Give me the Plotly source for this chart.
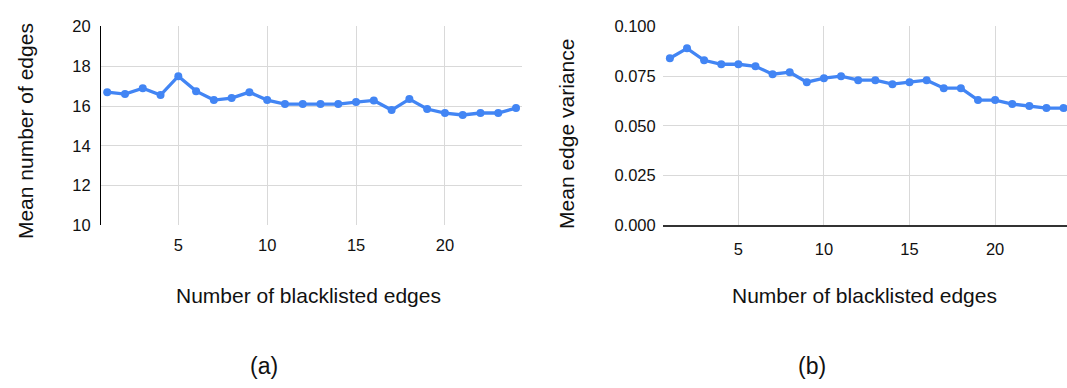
import plotly.graph_objects as go
from plotly.subplots import make_subplots

# Number of blacklisted edges (x) shared by both panels
blacklisted = list(range(1, 25))

# Panel (a): mean number of edges
mean_edges = [16.7, 16.6, 16.9, 16.55, 17.5, 16.75, 16.3, 16.4, 16.7, 16.3,
              16.1, 16.1, 16.1, 16.1, 16.2, 16.28, 15.8, 16.35, 15.85, 15.65,
              15.55, 15.65, 15.65, 15.9]

# Panel (b): mean edge variance
mean_variance = [0.084, 0.089, 0.083, 0.081, 0.081, 0.080, 0.076, 0.077, 0.072, 0.074,
                 0.075, 0.073, 0.073, 0.071, 0.072, 0.073, 0.069, 0.069, 0.063, 0.063,
                 0.061, 0.060, 0.059, 0.059]

left_ticks = [10, 12, 14, 16, 18, 20]
right_ticks = [0.0, 0.025, 0.05, 0.075, 0.1]
right_tick_text = ["0.000", "0.025", "0.050", "0.075", "0.100"]
x_ticks = [5, 10, 15, 20]

W, H = 1067, 388
BLUE = "#4285F4"
GRID = "#d9d9d9"
FONT = "Liberation Sans, Arial, sans-serif"

fig = make_subplots(rows=1, cols=2)

line_style = dict(color=BLUE, width=3.3)
marker_style = dict(color=BLUE, size=8)

fig.add_trace(go.Scatter(x=blacklisted, y=mean_edges, mode="lines+markers",
                         line=line_style, marker=marker_style, showlegend=False,
                         cliponaxis=False), row=1, col=1)
fig.add_trace(go.Scatter(x=blacklisted, y=mean_variance, mode="lines+markers",
                         line=line_style, marker=marker_style, showlegend=False,
                         cliponaxis=False), row=1, col=2)

y_top = 1 - 18.3 / H
y_bot = 1 - 227.0 / H

tick_font = dict(family=FONT, size=16.5, color="#111111")

fig.update_xaxes(tickvals=x_ticks, showgrid=True, gridcolor=GRID, gridwidth=1,
                 zeroline=False, ticks="", tickfont=tick_font, ticklabelstandoff=8)
fig.update_yaxes(showgrid=True, gridcolor=GRID, gridwidth=1, zeroline=False,
                 ticks="", tickfont=tick_font, ticklabelstandoff=6)

fig.update_layout(
    xaxis=dict(domain=[101 / W, 521.7 / W], range=[0.65, 24.32]),
    yaxis=dict(domain=[y_bot, y_top], range=[10, 20], tickvals=left_ticks,
               showline=True, linecolor="#000000", linewidth=1),
    xaxis2=dict(domain=[662.7 / W, 1.0], range=[0.58, 24.2],
                showline=True, linecolor="#333333", linewidth=1.5),
    yaxis2=dict(domain=[y_bot, y_top], range=[0, 0.1], tickvals=right_ticks,
                ticktext=right_tick_text),
    width=W, height=H,
    margin=dict(l=0, r=0, t=0, b=0),
    paper_bgcolor="white", plot_bgcolor="white",
    font=dict(family=FONT, color="#111111"),
)

title_font = dict(family=FONT, size=21, color="#111111")
label_font = dict(family=FONT, size=23, color="#111111")


def add_text(text, x, y, font, angle=0):
    fig.add_annotation(text=text, x=x / W, y=1 - y / H, xref="paper", yref="paper",
                       showarrow=False, textangle=angle, font=font,
                       xanchor="center", yanchor="middle")


add_text("Mean number of edges", 25, 128, title_font, -90)
add_text("Mean edge variance", 567, 131, title_font, -90)
add_text("Number of blacklisted edges", 308, 300, title_font)
add_text("Number of blacklisted edges", 864, 300, title_font)
add_text("(a)", 263.5, 374, label_font)
add_text("(b)", 811.5, 374, label_font)

fig.write_html("out.html")
